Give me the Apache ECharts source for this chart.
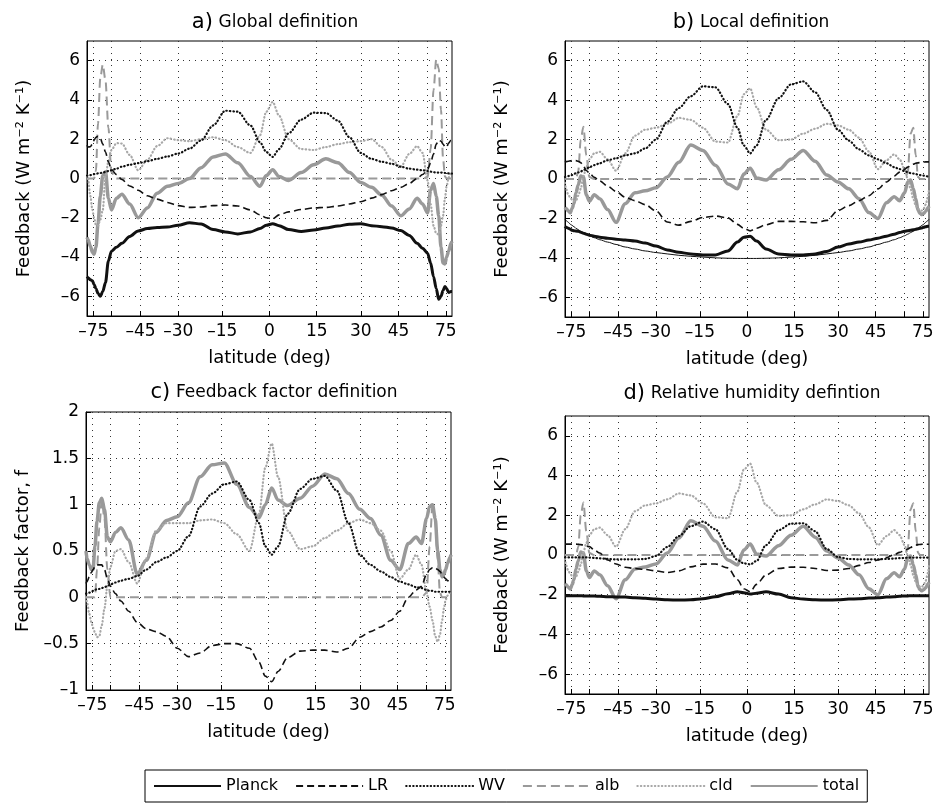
<!DOCTYPE html>
<html>
<head>
<meta charset="UTF-8">
<title>Feedback by latitude</title>
<script src="https://cdn.jsdelivr.net/npm/echarts@6/dist/echarts.min.js"></script>
<style>
  body { margin: 0; background: #fff; }
  #main { width: 941px; height: 806px; }
</style>
</head>
<body>
<div id="main"></div>
<script>
// latitudes (deg) the curves were read at
var lat = [-90,-84,-79,-76,-74,-72,-70,-68,-66,-64,-62,-60,-57,-54,-50,-46,-42,-38,-34,-30,
  -26,-22,-18,-14,-10,-6,-3,-1,1,3,6,10,14,18,22,26,30,34,38,42,46,50,54,57,60,62,64,66,68,70,72,74,76,79,84,90];

var latTicks = [-75,-60,-45,-30,-15,0,15,30,45,60,75];
var latLabels = [-75,-45,-30,-15,0,15,30,45,75];
var fbTicks = [-6,-4,-2,0,2,4,6];

// a) global definition
var aPlanck = [-5.0,-5.05,-5.15,-5.2,-5.4,-5.6,-5.85,-6.0,-5.75,-5.3,-4.2,-3.7,-3.5,-3.3,-2.95,-2.67,-2.55,-2.5,-2.47,-2.38,
  -2.25,-2.32,-2.6,-2.72,-2.82,-2.72,-2.55,-2.38,-2.3,-2.4,-2.6,-2.7,-2.62,-2.52,-2.42,-2.33,-2.3,-2.4,-2.45,-2.52,
  -2.65,-2.9,-3.3,-3.55,-3.8,-4.3,-5.0,-5.6,-6.15,-6.0,-5.7,-5.5,-5.6,-5.8,-5.75,-5.75];
var aLR = [1.7,1.6,1.62,1.75,1.95,2.1,2.15,2.05,1.75,1.35,0.85,0.45,0.2,-0.05,-0.38,-0.6,-0.88,-1.05,-1.22,-1.38,
  -1.47,-1.45,-1.38,-1.35,-1.4,-1.6,-1.85,-2.0,-2.05,-1.85,-1.7,-1.58,-1.5,-1.47,-1.4,-1.3,-1.18,-1.0,-0.82,-0.62,
  -0.45,-0.25,0.0,0.2,0.45,0.8,1.25,1.75,1.95,1.9,1.75,1.62,1.6,1.8,1.95,2.0];
var aWV = [0.15,0.15,0.17,0.2,0.22,0.24,0.26,0.28,0.3,0.33,0.38,0.42,0.5,0.6,0.7,0.78,0.88,1.0,1.12,1.27,
  1.52,1.94,2.7,3.45,3.4,2.7,1.85,1.35,1.1,1.5,2.3,3.0,3.35,3.33,2.95,2.1,1.3,1.0,0.85,0.75,
  0.6,0.5,0.45,0.42,0.38,0.35,0.32,0.3,0.3,0.3,0.3,0.28,0.27,0.26,0.25,0.25];
var aAlb = [0,0,0,0,0,0.4,2.8,5.1,5.8,5.0,2.6,0.3,0,0,0,0,0,0,0,0,
  0,0,0,0,0,0,0,0,0,0,0,0,0,0,0,0,0,0,0,0,
  0,0,0,0,0.05,1.5,4.5,6.05,5.6,3.5,1.0,0.1,0,0,0,0];
var aCld = [0.15,0.0,-0.9,-1.6,-2.0,-2.37,-2.4,-2.1,-1.6,0.1,0.85,1.45,1.8,1.78,1.2,0.42,0.95,1.65,2.05,1.95,
  1.9,2.0,2.1,1.95,1.6,1.3,2.2,3.4,3.9,3.2,2.0,1.5,1.45,1.6,1.75,1.85,1.9,2.0,1.6,0.95,
  0.6,1.25,1.65,1.3,-0.1,-1.3,-2.4,-2.8,-2.85,-2.4,-1.9,-1.0,-0.4,0.05,0.3,0.35];
var aTotal = [-3.0,-3.1,-3.45,-3.75,-3.85,-3.5,-2.3,-0.9,0.15,0.35,-1.0,-1.6,-1.0,-0.8,-1.3,-2.0,-1.5,-0.75,-0.4,-0.25,
  0.0,0.55,1.1,1.25,0.8,0.1,-0.4,0.15,0.45,0.1,-0.1,0.3,0.7,1.0,0.8,0.3,-0.2,-0.45,-0.85,-1.4,
  -1.9,-1.55,-1.0,-1.3,-1.75,-0.6,-0.25,-0.9,-1.9,-3.5,-4.3,-4.35,-4.0,-3.7,-3.3,-3.2];

// b) local definition
var bPlanck = [-2.4,-2.45,-2.5,-2.55,-2.6,-2.62,-2.64,-2.65,-2.7,-2.75,-2.8,-2.85,-2.9,-2.95,-3.0,-3.05,-3.1,-3.15,-3.25,-3.4,
  -3.6,-3.72,-3.8,-3.85,-3.85,-3.65,-3.2,-2.95,-2.9,-3.15,-3.55,-3.8,-3.85,-3.85,-3.8,-3.68,-3.45,-3.3,-3.2,-3.1,
  -3.0,-2.9,-2.8,-2.72,-2.65,-2.62,-2.6,-2.58,-2.55,-2.52,-2.5,-2.48,-2.45,-2.42,-2.4,-2.4];
var bPlanckRef = [-2.05,-2.1,-2.2,-2.3,-2.35,-2.42,-2.5,-2.57,-2.65,-2.72,-2.8,-2.88,-2.98,-3.08,-3.2,-3.32,-3.45,-3.55,-3.65,-3.73,
  -3.8,-3.87,-3.92,-3.96,-4.0,-4.02,-4.03,-4.03,-4.03,-4.03,-4.02,-4.0,-3.96,-3.92,-3.87,-3.8,-3.73,-3.65,-3.55,-3.45,
  -3.32,-3.2,-3.08,-2.98,-2.88,-2.8,-2.72,-2.65,-2.57,-2.5,-2.42,-2.35,-2.3,-2.2,-2.1,-2.05];
var bLR = [0.85,0.88,0.9,0.92,0.94,0.94,0.93,0.9,0.83,0.65,0.43,0.3,0.08,-0.1,-0.36,-0.63,-0.92,-1.1,-1.3,-1.62,
  -2.18,-2.34,-2.15,-1.95,-1.88,-1.97,-2.3,-2.5,-2.63,-2.5,-2.32,-2.15,-2.15,-2.17,-2.22,-2.1,-1.6,-1.35,-1.1,-0.85,
  -0.5,-0.15,0.15,0.35,0.5,0.6,0.68,0.75,0.8,0.82,0.84,0.85,0.86,0.87,0.87,0.87];
var bWV = [0.1,0.12,0.15,0.18,0.2,0.25,0.3,0.33,0.38,0.45,0.52,0.6,0.7,0.8,0.95,1.05,1.2,1.3,1.55,2.0,
  2.9,3.6,4.2,4.7,4.65,3.8,2.6,1.7,1.3,1.7,3.0,4.1,4.8,4.95,4.4,3.5,2.5,1.95,1.5,1.2,
  1.0,0.8,0.6,0.5,0.4,0.35,0.3,0.28,0.25,0.22,0.2,0.18,0.17,0.15,0.13,0.12];
var bAlb = [0,0,0,0,0,0,0,0.4,2.0,2.65,1.2,0.1,0,0,0,0,0,0,0,0,
  0,0,0,0,0,0,0,0,0,0,0,0,0,0,0,0,0,0,0,0,
  0,0,0,0,0,0.3,2.3,2.6,1.2,0.1,0,0,0,0,0,0];
var bCld = [-0.2,-0.5,-0.8,-0.96,-1.05,-1.12,-1.1,-0.85,-0.5,0.15,0.6,1.0,1.3,1.38,1.0,0.42,1.3,2.2,2.5,2.6,
  2.8,3.1,3.0,2.6,1.9,1.85,3.2,4.3,4.6,3.65,2.5,1.97,2.0,2.3,2.55,2.8,2.72,2.5,2.1,1.4,
  0.5,0.95,1.25,1.0,0.5,0.0,-0.5,-1.0,-1.35,-1.5,-1.6,-1.6,-1.5,-1.3,-0.9,-0.5];
var bTotal = [-1.45,-1.5,-1.62,-1.71,-1.5,-1.25,-0.7,-0.3,0.15,0.1,-0.8,-1.13,-0.8,-1.0,-1.55,-2.2,-1.25,-0.7,-0.6,-0.45,
  0.1,0.85,1.72,1.45,0.7,-0.25,-0.5,0.25,0.55,0.05,-0.05,0.47,1.0,1.45,0.9,0.2,-0.15,-0.5,-1.0,-1.7,
  -2.0,-1.2,-0.9,-1.1,-0.7,-0.15,-0.05,-0.5,-1.0,-1.6,-1.75,-1.8,-1.75,-1.65,-1.46,-1.38];

// c) feedback factor definition
var cLR = [0.15,0.17,0.22,0.27,0.3,0.33,0.35,0.35,0.35,0.3,0.2,0.12,0.04,-0.04,-0.15,-0.27,-0.34,-0.37,-0.42,-0.55,
  -0.64,-0.6,-0.52,-0.5,-0.5,-0.55,-0.7,-0.85,-0.91,-0.8,-0.65,-0.58,-0.57,-0.57,-0.59,-0.55,-0.43,-0.37,-0.32,-0.25,
  -0.15,0.0,0.08,0.12,0.25,0.3,0.32,0.32,0.3,0.28,0.25,0.22,0.2,0.18,0.16,0.15];
var cWV = [0.04,0.04,0.05,0.06,0.07,0.08,0.09,0.09,0.1,0.11,0.12,0.14,0.16,0.18,0.2,0.23,0.3,0.38,0.43,0.5,
  0.66,0.98,1.12,1.22,1.25,1.05,0.8,0.55,0.46,0.55,0.9,1.17,1.28,1.31,1.15,0.8,0.46,0.35,0.28,0.22,
  0.17,0.14,0.11,0.1,0.08,0.07,0.07,0.06,0.06,0.06,0.06,0.06,0.06,0.06,0.06,0.06];
var cAlb = [0,0,0,0,0,0,0.3,0.75,1.05,0.85,0.3,0,0,0,0,0,0,0,0,0,
  0,0,0,0,0,0,0,0,0,0,0,0,0,0,0,0,0,0,0,0,
  0,0,0,0,0.05,0.55,1.0,0.85,0.4,0.05,0,0,0,0,0,0];
var cCld = [0.0,-0.05,-0.18,-0.27,-0.33,-0.38,-0.43,-0.42,-0.3,-0.12,0.12,0.33,0.5,0.52,0.38,0.15,0.42,0.72,0.8,0.8,
  0.8,0.83,0.84,0.8,0.68,0.5,0.9,1.4,1.66,1.3,0.72,0.52,0.55,0.64,0.72,0.8,0.84,0.8,0.72,0.5,
  0.2,0.3,0.46,0.35,0.05,-0.1,-0.25,-0.42,-0.48,-0.4,-0.25,-0.12,-0.03,0.02,0.05,0.05];
var cTotal = [0.5,0.42,0.35,0.3,0.3,0.55,0.82,1.02,1.07,0.95,0.65,0.6,0.7,0.75,0.62,0.25,0.4,0.7,0.83,0.87,
  1.02,1.3,1.43,1.45,1.22,0.97,0.86,1.0,1.18,1.05,0.99,1.07,1.2,1.33,1.28,1.12,0.95,0.85,0.67,0.4,
  0.3,0.58,0.65,0.58,0.85,0.98,1.0,0.85,0.5,0.3,0.22,0.25,0.3,0.37,0.43,0.46];

// d) relative humidity definition (alb, cld and total are the same curves as in b)
var dPlanck = [-2.05,-2.05,-2.05,-2.05,-2.05,-2.05,-2.05,-2.05,-2.05,-2.06,-2.06,-2.06,-2.07,-2.08,-2.1,-2.11,-2.12,-2.15,-2.18,-2.22,
  -2.25,-2.27,-2.25,-2.2,-2.1,-1.95,-1.85,-1.9,-1.97,-1.92,-1.85,-1.97,-2.15,-2.22,-2.25,-2.27,-2.25,-2.22,-2.2,-2.17,
  -2.15,-2.12,-2.1,-2.08,-2.06,-2.06,-2.05,-2.05,-2.05,-2.05,-2.05,-2.05,-2.05,-2.05,-2.05,-2.05];
var dLR = [0.55,0.55,0.55,0.55,0.55,0.55,0.55,0.54,0.52,0.5,0.45,0.42,0.25,0.1,-0.25,-0.45,-0.62,-0.68,-0.73,-0.8,
  -0.88,-0.8,-0.6,-0.46,-0.45,-0.65,-1.25,-1.7,-1.85,-1.48,-1.0,-0.68,-0.61,-0.62,-0.68,-0.78,-0.76,-0.68,-0.52,-0.38,
  -0.25,-0.13,0.02,0.13,0.23,0.3,0.38,0.45,0.5,0.52,0.53,0.54,0.54,0.54,0.54,0.54];
var dWV = [-0.12,-0.12,-0.12,-0.12,-0.12,-0.12,-0.12,-0.12,-0.12,-0.12,-0.12,-0.13,-0.15,-0.17,-0.2,-0.22,-0.22,-0.22,-0.2,-0.05,
  0.4,0.95,1.45,1.68,1.3,0.3,-0.25,-0.42,-0.47,-0.3,0.5,1.25,1.58,1.6,1.2,0.3,-0.1,-0.2,-0.22,-0.22,
  -0.22,-0.2,-0.18,-0.16,-0.15,-0.13,-0.13,-0.13,-0.13,-0.13,-0.13,-0.13,-0.13,-0.13,-0.13,-0.13];

var FONT = 'DejaVu Sans';
var chart = echarts.init(document.getElementById('main'));

function sinLat(d) { return Math.sin(d * Math.PI / 180); }
function minus(s) { return String(s).replace('-', '\u2013'); }

var styles = {
  Planck: { color: '#111', width: 3, type: 'solid' },
  LR: { color: '#111', width: 1.6, type: [7, 4] },
  WV: { color: '#111', width: 2.2, type: [0.5, 3], cap: 'round' },
  alb: { color: '#9a9a9a', width: 2, type: [9, 5] },
  cld: { color: '#a8a8a8', width: 2.2, type: [0.5, 3], cap: 'round' },
  total: { color: '#999', width: 3.5, type: 'solid' },
  ref: { color: '#111', width: 1, type: 'solid' }
};

function line(name, vals, g, key) {
  var st = styles[key || name];
  return {
    type: 'line', name: name, xAxisIndex: g, yAxisIndex: g,
    data: lat.map(function (l, i) { return [sinLat(l), vals[i]]; }),
    symbol: 'none', smooth: 0.3, smoothMonotone: 'x',
    color: st.color, lineStyle: st, itemStyle: { opacity: 0 }, silent: true
  };
}

var grids = [
  { left: 87, top: 41, width: 365, height: 275 },
  { left: 565, top: 41, width: 364, height: 276 },
  { left: 86, top: 412, width: 365, height: 278 },
  { left: 565, top: 416, width: 364, height: 278 }
].map(function (g) {
  g.show = true; g.borderColor = '#000'; g.borderWidth = 1; g.backgroundColor = 'transparent';
  return g;
});

var dotted = { show: true, lineStyle: { color: '#333', width: 1, type: [1, 5] } };

var xAxes = [0, 1, 2, 3].map(function (i) {
  return {
    type: 'value', gridIndex: i, min: -1, max: 1,
    axisLine: { show: true, onZero: false, lineStyle: { color: '#000' } },
    axisTick: { inside: true, length: 5, customValues: latTicks.map(sinLat), lineStyle: { color: '#000' } },
    axisLabel: {
      customValues: latLabels.map(sinLat), color: '#000', fontSize: 17, margin: 7, fontFamily: FONT,
      formatter: function (v) { return minus(Math.round(Math.asin(v) * 180 / Math.PI)); }
    },
    splitLine: dotted,
    name: 'latitude (deg)', nameLocation: 'middle', nameGap: 33,
    nameTextStyle: { fontSize: 18, color: '#000', fontFamily: FONT }
  };
});

var fbName = 'Feedback (W m\u207B\u00B2 K\u207B\u00B9)';
var yAxes = [0, 1, 2, 3].map(function (i) {
  var isC = i === 2;
  var ax = {
    type: 'value', gridIndex: i,
    min: isC ? -1 : -7, max: isC ? 2 : 7,
    axisLine: { show: true, onZero: false, lineStyle: { color: '#000' } },
    axisTick: { inside: true, length: 5, lineStyle: { color: '#000' } },
    axisLabel: { color: '#000', fontSize: 17, margin: 7, fontFamily: FONT,
      formatter: function (v) { return minus(v); } },
    splitLine: dotted,
    name: isC ? 'Feedback factor, f' : fbName,
    nameLocation: 'middle', nameGap: 54,
    nameTextStyle: { fontSize: 18, color: '#000', fontFamily: FONT }
  };
  if (isC) {
    ax.interval = 0.5;
  } else {
    ax.axisTick.customValues = fbTicks;
    ax.axisLabel.customValues = fbTicks;
  }
  return ax;
});

function title(tag, txt, x, y) {
  return {
    text: '{p|' + tag + '} {t|' + txt + '}', left: x, top: y, textAlign: 'center',
    textStyle: { fontWeight: 'normal', rich: {
      p: { fontSize: 21, fontFamily: FONT, color: '#000', fontWeight: 'normal' },
      t: { fontSize: 17, fontFamily: FONT, color: '#000', fontWeight: 'normal' }
    } }
  };
}

var series = [
  line('total', aTotal, 0), line('alb', aAlb, 0), line('cld', aCld, 0),
  line('WV', aWV, 0), line('LR', aLR, 0), line('Planck', aPlanck, 0),

  line('total', bTotal, 1), line('alb', bAlb, 1), line('cld', bCld, 1),
  line('WV', bWV, 1), line('LR', bLR, 1), line('Planck ref', bPlanckRef, 1, 'ref'), line('Planck', bPlanck, 1),

  line('total', cTotal, 2), line('alb', cAlb, 2), line('cld', cCld, 2),
  line('WV', cWV, 2), line('LR', cLR, 2),

  line('total', bTotal, 3), line('alb', bAlb, 3), line('cld', bCld, 3),
  line('WV', dWV, 3), line('LR', dLR, 3), line('Planck', dPlanck, 3)
];

chart.setOption({
  animation: false,
  backgroundColor: '#fff',
  textStyle: { fontFamily: FONT },
  title: [
    title('a)', 'Global definition', 270, 7),
    title('b)', 'Local definition', 746, 7),
    title('c)', 'Feedback factor definition', 269, 377),
    title('d)', 'Relative humidity defintion', 747, 378)
  ],
  legend: {
    data: ['Planck', 'LR', 'WV', 'alb', 'cld', 'total'],
    left: 145, top: 770, orient: 'horizontal',
    itemWidth: 67, itemHeight: 14, itemGap: 17,
    padding: [8, 8, 8, 8],
    borderColor: '#000', borderWidth: 1,
    itemStyle: { opacity: 0 },
    textStyle: { fontSize: 16, color: '#000', fontFamily: FONT },
    selectedMode: false
  },
  grid: grids,
  xAxis: xAxes,
  yAxis: yAxes,
  series: series
});
</script>
</body>
</html>
